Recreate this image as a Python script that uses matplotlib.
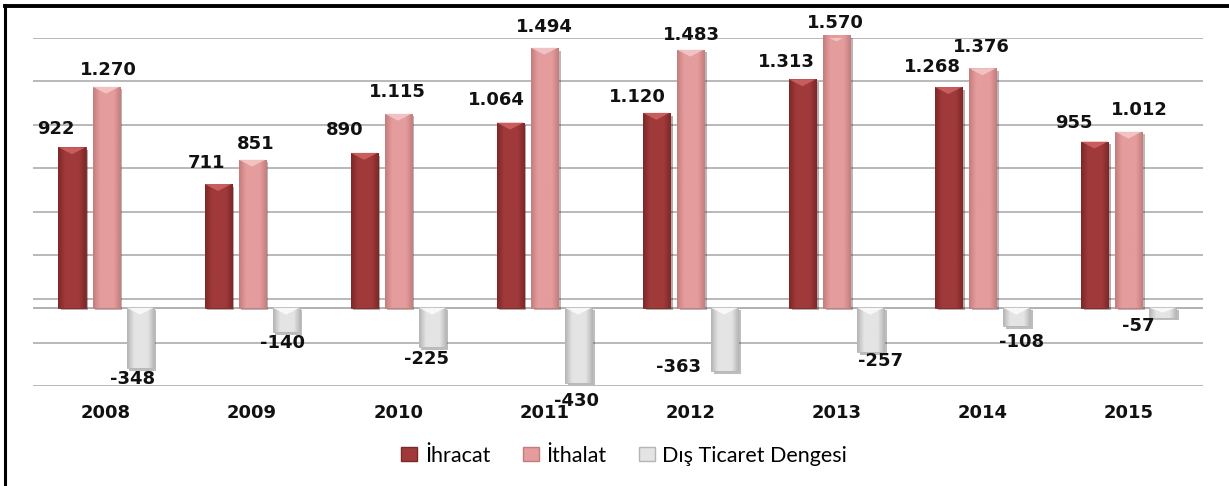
import matplotlib
matplotlib.use("Agg")
import matplotlib.pyplot as plt
import matplotlib.patheffects as pe
from matplotlib.colors import LinearSegmentedColormap
from matplotlib.lines import Line2D
from matplotlib.patches import Polygon
import numpy as np

years = ["2008", "2009", "2010", "2011", "2012", "2013", "2014", "2015"]
ihracat = [922, 711, 890, 1064, 1120, 1313, 1268, 955]
ithalat = [1270, 851, 1115, 1494, 1483, 1570, 1376, 1012]
denge = [-348, -140, -225, -430, -363, -257, -108, -57]
series_names = ["İhracat", "İthalat", "Dış Ticaret Dengesi"]

# label offsets in pixels (dx, dy), hand placed like in the original
ihracat_off = [(-16, 18), (-12, 21), (-19, 23), (-14, 23), (-19, 16), (-16, 17), (-16, 20), (-21, 19)]
ithalat_off = [(2, 17), (4, 16), (-1, 22), (0, 21), (1, 15), (-1, 12), (-1, 21), (11, 22)]
denge_off = [(-8, -11), (-4, -11), (-6, -12), (-2, -18), (-46, 4), (10, -9), (5, -16), (-24, -8)]

colors = ["#A03A3A", "#E49C9C", "#E4E4E4"]
darks = ["#7E2727", "#C47C7C", "#B5B5B5"]
lights = ["#D86A6A", "#F8D0D0", "#FFFFFF"]


def fmt(v):
    return f"{v:,}".replace(",", ".")


fig = plt.figure(figsize=(12.29, 4.86), dpi=100)
ax = fig.add_axes([33 / 1229, 100 / 486, 1170 / 1229, 348 / 486])

x = np.arange(len(years))
width = 0.185
step = 0.233
shadow = [pe.SimplePatchShadow(offset=(2, -2), alpha=0.35), pe.Normal()]
cap = 40  # height of the bevel on the bar ends, data units

for i, (vals, offs) in enumerate(zip([ihracat, ithalat, denge], [ihracat_off, ithalat_off, denge_off])):
    bars = ax.bar(x + (i - 1) * step, vals, width, color=colors[i], edgecolor=darks[i],
                  linewidth=0.6, label=series_names[i], zorder=3)
    cmap = LinearSegmentedColormap.from_list("b", [darks[i], colors[i], colors[i], colors[i], darks[i]])
    for b, v in zip(bars, vals):
        b.set_path_effects(shadow)
        x0, x1 = b.get_x(), b.get_x() + b.get_width()
        y0, y1 = sorted([0, v])
        im = ax.imshow(np.linspace(0, 1, 50)[None, :], cmap=cmap, aspect="auto",
                       extent=[x0, x1, y0, y1], zorder=3.1, interpolation="bilinear")
        im.set_clip_path(b)
        xm = (x0 + x1) / 2
        h = min(cap, abs(v) * 0.5)
        ax.add_patch(Polygon([(x0, y1), (x1, y1), (xm, y1 - h)], closed=True,
                             facecolor=lights[i], edgecolor="none", alpha=0.75, zorder=3.2))
    for b, v, (dx, dy) in zip(bars, vals, offs):
        ax.annotate(fmt(v), (b.get_x() + b.get_width() / 2, v), xytext=(dx, dy),
                    textcoords="offset pixels", ha="center", va="center",
                    fontsize=13, fontweight="bold", color="#111111",
                    annotation_clip=False, zorder=5)

ax.set_xlim(-0.5, 7.51)
ax.set_ylim(-450, 1550)
ax.set_yticks(np.arange(-450, 1551, 250))
ax.set_yticklabels([])
ax.tick_params(axis="y", length=0)
ax.grid(axis="y", color="#A6A6A6", linewidth=1.1, zorder=0)
ax.axhline(0, color="#B0B0B0", linewidth=1.4, zorder=1)
ax.set_xticks(x)
ax.set_xticklabels(years, fontsize=13, fontweight="bold", color="#111111")
ax.tick_params(axis="x", length=0, pad=13)
for s in ax.spines.values():
    s.set_visible(False)

handles = [plt.Rectangle((0, 0), 1, 1, facecolor=colors[i], edgecolor=darks[i]) for i in range(3)]
fig.legend(handles, series_names, loc="center", bbox_to_anchor=(0.508, 0.062), ncol=3,
           frameon=False, prop={"family": "Lato", "size": 15.5}, handlelength=0.75,
           handleheight=0.65, handletextpad=0.35, columnspacing=1.5)

# outer frame of the original (left and top edges only are visible)
fig.add_artist(Line2D([5 / 1229, 5 / 1229], [0, 1 - 5 / 486], color="black", linewidth=2.2))
fig.add_artist(Line2D([5 / 1229, 1], [1 - 6 / 486, 1 - 6 / 486], color="black", linewidth=2.8))

fig.savefig("out.png", dpi=100)
